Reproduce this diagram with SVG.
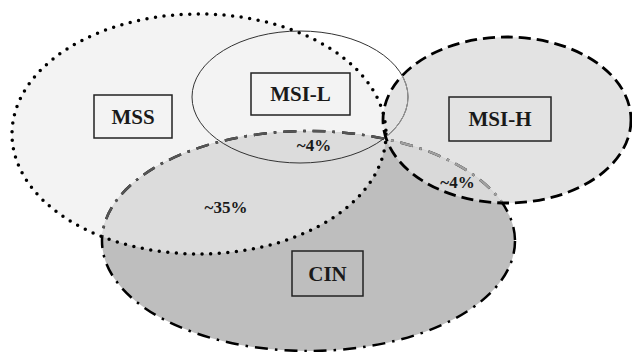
<svg xmlns="http://www.w3.org/2000/svg" xmlns:xlink="http://www.w3.org/1999/xlink" width="632" height="352" viewBox="0 0 632 352">
  <style>
    .lbl { font-family: "Liberation Serif", "Times New Roman", serif; font-weight: bold; font-size: 21px; fill: #1a1a1a; text-anchor: middle; }
    .pct { font-family: "Liberation Serif", "Times New Roman", serif; font-weight: bold; font-size: 17px; fill: #1a1a1a; text-anchor: middle; }
    .box { fill: none; stroke: #222; stroke-width: 1.5; }
    .cin-line { fill: none; stroke-width: 2.5; stroke-dasharray: 13 7 2.5 7; }
    .mss-line { fill: none; stroke: #000; stroke-width: 3.5; stroke-linecap: round; stroke-dasharray: 0 8.6; }
    .msih-line { fill: none; stroke: #000; stroke-width: 2.8; stroke-dasharray: 12 6; }
    .msil-line { fill: none; stroke-width: 1; }
  </style>
  <defs>
    <ellipse id="e-cin" cx="308.5" cy="241" rx="206.5" ry="110"/>
    <ellipse id="e-mss" cx="199" cy="134" rx="187" ry="120"/>
    <ellipse id="e-msih" cx="507" cy="120" rx="124" ry="83"/>
    <ellipse id="e-msil" cx="300" cy="97" rx="108" ry="66"/>
    <clipPath id="clip-cin"><use xlink:href="#e-cin"/></clipPath>
    <clipPath id="clip-mss"><use xlink:href="#e-mss"/></clipPath>
    <clipPath id="clip-msih"><use xlink:href="#e-msih"/></clipPath>
  </defs>
  <rect width="632" height="352" fill="#ffffff"/>
  <g id="regions">
    <use xlink:href="#e-mss" fill="#f3f3f3"/>
    <use xlink:href="#e-msih" fill="#e3e3e3"/>
    <use xlink:href="#e-cin" fill="#bebebe"/>
    <use xlink:href="#e-mss" fill="#dcdcdc" clip-path="url(#clip-cin)"/>
    <use xlink:href="#e-msih" fill="#d9d9d9" clip-path="url(#clip-cin)"/>
  </g>
  <g id="node-cin">
    <use xlink:href="#e-cin" class="cin-line" stroke="#000"/>
    <use xlink:href="#e-cin" class="cin-line" stroke="#555" clip-path="url(#clip-mss)"/>
    <use xlink:href="#e-cin" class="cin-line" stroke="#a0a0a0" clip-path="url(#clip-msih)"/>
    <rect class="box" x="292" y="251" width="71" height="45"/>
    <text class="lbl" x="327.5" y="281">CIN</text>
  </g>
  <g id="node-msil">
    <use xlink:href="#e-msil" class="msil-line" stroke="#333"/>
    <use xlink:href="#e-msil" class="msil-line" stroke="#999" clip-path="url(#clip-msih)"/>
    <rect class="box" x="251" y="73" width="99" height="42"/>
    <text class="lbl" x="300.5" y="101">MSI-L</text>
  </g>
  <g id="node-mss">
    <use xlink:href="#e-mss" class="mss-line"/>
    <rect class="box" x="94" y="95" width="78" height="43"/>
    <text class="lbl" x="133" y="124">MSS</text>
  </g>
  <g id="node-msih">
    <use xlink:href="#e-msih" class="msih-line"/>
    <rect class="box" x="449" y="97" width="102" height="44"/>
    <text class="lbl" x="500" y="126">MSI-H</text>
  </g>
  <g id="overlap-labels">
    <text class="pct" x="226" y="213">~35%</text>
    <text class="pct" x="314" y="151">~4%</text>
    <text class="pct" x="457.5" y="188">~4%</text>
  </g>
  <g id="connectors"/>
</svg>
